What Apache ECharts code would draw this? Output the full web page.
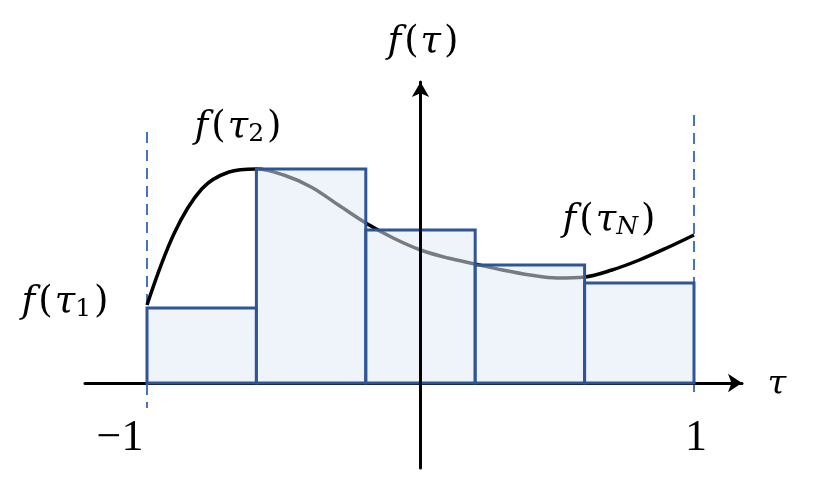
<!DOCTYPE html>
<html><head><meta charset="utf-8">
<script src="https://cdn.jsdelivr.net/npm/echarts@6/dist/echarts.min.js"></script>
<style>html,body{margin:0;padding:0;background:#fff}#c{width:837px;height:485px}</style>
</head><body><div id="c"></div>
<script>
// Rectangle (bar) edges on tau axis and their heights f(tau_i)
const barLeft  = [-1, -0.6, -0.2, 0.2, 0.6];
const barRight = [-0.6, -0.2, 0.2, 0.6, 1];
const barHeight = [0.75, 2.14, 1.53, 1.18, 1.00];
// Curve f(tau) sample points
const curveX = [-1.0, -0.9, -0.8, -0.7, -0.6, -0.5, -0.4, -0.3, -0.2, -0.1, 0.0, 0.1, 0.2, 0.3, 0.4, 0.5, 0.6, 0.7, 0.8, 0.9, 1.0];
const curveY = [0.78, 1.50, 1.94, 2.11, 2.14, 2.08, 1.96, 1.78, 1.60, 1.45, 1.33, 1.25, 1.19, 1.13, 1.08, 1.05, 1.06, 1.13, 1.23, 1.35, 1.48];
// Dashed boundary lines at tau = -1 and tau = 1
const leftDash = [[-1, 2.51], [-1, -0.25]];
const rightDash = [[1, 2.68], [1, -0.09]];
// Texts
const tickLabels = ['\u22121', '1'];
const axisName = 'τ';
const subs = ['', '2', 'N', '1'];

const serif = 'DejaVu Serif';
const rich = {
  i: {fontFamily: serif, fontStyle: 'italic', fontSize: 37, color: '#000', lineHeight: 46},
  p: {fontFamily: serif, fontSize: 37, color: '#000', lineHeight: 46, padding: [0, 2, 0, 3]},
  s: {fontFamily: serif, fontSize: 25, color: '#000', lineHeight: 46, verticalAlign: 'bottom', padding: [0, 0, 3, 0]},
  si: {fontFamily: serif, fontStyle: 'italic', fontSize: 25, color: '#000', lineHeight: 46, verticalAlign: 'bottom', padding: [0, 0, 3, 0]}
};
function fLabel(sub) {
  let s = '{i|f}{p|(}{i|τ}';
  if (sub) s += (/[0-9]/.test(sub) ? '{s|' : '{si|') + sub + '}';
  return s + '{p|)}';
}
function txt(x, y, text, extra) {
  return Object.assign({type: 'text', x: x, y: y, z: 100,
    style: Object.assign({text: text, rich: rich, fill: '#000', align: 'center', verticalAlign: 'middle'}, extra || {})});
}

const chart = echarts.init(document.getElementById('c'), null, {renderer: 'canvas'});
chart.setOption({
  animation: false,
  grid: {left: 85, right: 95, top: 82, bottom: 17},
  xAxis: {
    type: 'value', min: -1.2267, max: 1.1755, z: 0,
    axisLine: {show: true, onZero: true, symbol: ['none', 'arrow'], symbolSize: [14, 14], lineStyle: {color: '#000', width: 3}},
    axisTick: {show: false}, axisLabel: {show: false}, splitLine: {show: false}
  },
  yAxis: {
    type: 'value', min: -0.85, max: 3.01, z: 10,
    axisLine: {show: true, onZero: true, symbol: ['none', 'arrow'], symbolSize: [13, 15], lineStyle: {color: '#000', width: 3}},
    axisTick: {show: false}, axisLabel: {show: false}, splitLine: {show: false}
  },
  series: [
    {type: 'line', z: 1, data: leftDash, symbol: 'none', silent: true,
     lineStyle: {color: '#4472C4', width: 2, type: [11, 7]}},
    {type: 'line', z: 1, data: rightDash, symbol: 'none', silent: true,
     lineStyle: {color: '#4472C4', width: 2, type: [11, 7]}},
    {type: 'line', z: 1, smooth: 0.35, symbol: 'none', silent: true,
     data: curveX.map((x, i) => [x, curveY[i]]),
     lineStyle: {color: '#000', width: 3.5}},
    {type: 'custom', z: 3, silent: true,
     data: barLeft.map((x, i) => [x, barRight[i], barHeight[i]]),
     encode: {x: [0, 1], y: 2},
     renderItem: function (params, api) {
       const p0 = api.coord([api.value(0), api.value(2)]);
       const p1 = api.coord([api.value(1), 0]);
       return {type: 'rect', shape: {x: p0[0], y: p0[1], width: p1[0] - p0[0], height: p1[1] - p0[1]},
         style: {fill: 'rgba(224,232,246,0.53)', stroke: '#2F5597', lineWidth: 3}};
     }}
  ],
  graphic: [
    txt(424, 42, fLabel(subs[0])),
    txt(239, 127, fLabel(subs[1])),
    txt(610, 220, fLabel(subs[2])),
    txt(66, 302, fLabel(subs[3])),
    {type: 'text', x: 120, y: 438, z: 100, style: {text: tickLabels[0], fontFamily: 'Liberation Serif', fontSize: 44, fill: '#000', align: 'center', verticalAlign: 'middle'}},
    {type: 'text', x: 696, y: 438, z: 100, style: {text: tickLabels[1], fontFamily: 'Liberation Serif', fontSize: 44, fill: '#000', align: 'center', verticalAlign: 'middle'}},
    {type: 'text', x: 777, y: 385, z: 100, style: {text: axisName, fontFamily: serif, fontStyle: 'italic', fontSize: 34, fill: '#000', align: 'center', verticalAlign: 'middle'}}
  ]
});
</script></body></html>
